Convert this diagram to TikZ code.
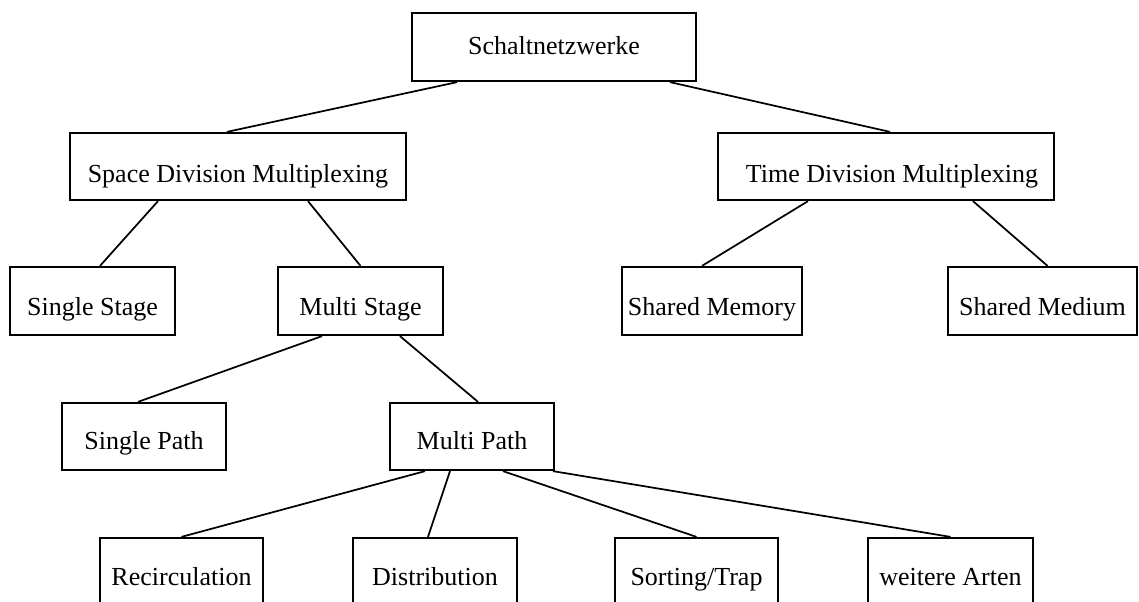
\documentclass[tikz,border=0pt]{standalone}
\usepackage{fontspec}
\setmainfont{Liberation Serif}
\usetikzlibrary{calc}
% label text set on a line lowered by #1 below the box centre
\newcommand{\boxlabel}[2]{\raisebox{-#1}[0pt][0pt]{#2}}
\begin{document}
\begin{tikzpicture}[x=0.75pt,y=-0.75pt,
  box/.style={draw,rectangle,line width=1.7pt,inner sep=0pt,
    minimum height=51pt,font=\fontsize{19.5pt}{23pt}\selectfont},
  link/.style={line width=1.3pt}]
\useasboundingbox (0,0) rectangle (1139,601);
\clip (0,0) rectangle (1139,601);

% level 0
\node[box,minimum width=213pt] (schalt) at (554,47) {\boxlabel{5.25pt}{Schaltnetzwerke}};
% level 1
\node[box,minimum width=252pt,minimum height=50.25pt] (sdm) at (238,166.5) {\boxlabel{12pt}{Space Division Multiplexing}};
\node[box,minimum width=252pt,minimum height=50.25pt] (tdm) at (886,166.5) {\boxlabel{12pt}{\hspace*{9pt}Time Division Multiplexing}};
% level 2
\node[box,minimum width=123.75pt] (sstage) at (92.5,301) {\boxlabel{11pt}{Single Stage}};
\node[box,minimum width=123.75pt] (mstage) at (360.5,301) {\boxlabel{11pt}{Multi Stage}};
\node[box,minimum width=135pt] (smem) at (712,301) {\boxlabel{11pt}{Shared Memory}};
\node[box,minimum width=141.75pt] (smed) at (1042.5,301) {\boxlabel{11pt}{Shared Medium}};
% level 3
\node[box,minimum width=123pt,minimum height=50.25pt] (spath) at (144,436.5) {\boxlabel{10pt}{Single Path}};
\node[box,minimum width=123pt,minimum height=50.25pt] (mpath) at (472,436.5) {\boxlabel{10pt}{Multi Path}};
% level 4
\node[box,minimum width=122.25pt] (recirc) at (181.5,572) {\boxlabel{9.75pt}{Recirculation}};
\node[box,minimum width=123pt] (distr) at (435,572) {\boxlabel{9.75pt}{Distribution}};
\node[box,minimum width=122.25pt] (sort) at (696.5,572) {\boxlabel{9.75pt}{Sorting/Trap}};
\node[box,minimum width=123.75pt] (weit) at (950.5,572) {\boxlabel{9.75pt}{weitere Arten}};

% tree connectors
\draw[link] ($(schalt.south)+(-97,0)$) -- ($(sdm.north)+(-11,0)$);
\draw[link] ($(schalt.south)+(116,0)$) -- ($(tdm.north)+(4,0)$);
\draw[link] ($(sdm.south)+(-80,0)$) -- ($(sstage.north)+(7.5,0)$);
\draw[link] ($(sdm.south)+(70,0)$) -- (mstage.north);
\draw[link] ($(tdm.south)+(-78,0)$) -- ($(smem.north)+(-10,0)$);
\draw[link] ($(tdm.south)+(87,0)$) -- ($(smed.north)+(5,0)$);
\draw[link] ($(mstage.south)+(-38.5,0)$) -- ($(spath.north)+(-6,0)$);
\draw[link] ($(mstage.south)+(39.5,0)$) -- ($(mpath.north)+(6,0)$);
\draw[link] ($(mpath.south)+(-47,0)$) -- (recirc.north);
\draw[link] ($(mpath.south)+(-22,0)$) -- ($(distr.north)+(-7,0)$);
\draw[link] ($(mpath.south)+(31,0)$) -- (sort.north);
\draw[link] ($(mpath.south)+(81,0)$) -- (weit.north);
\end{tikzpicture}
\end{document}
